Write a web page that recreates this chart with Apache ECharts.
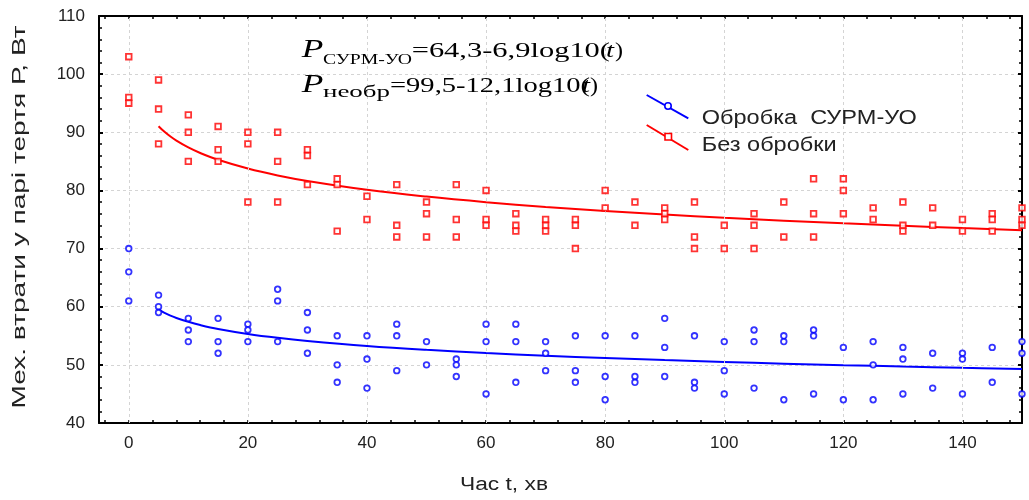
<!DOCTYPE html>
<html><head><meta charset="utf-8">
<script src="https://cdn.jsdelivr.net/npm/echarts@6/dist/echarts.min.js"></script>
<style>html,body{margin:0;padding:0;background:#fff}#c{width:1029px;height:500px}</style>
</head><body><div id="c"></div>
<script>
// ---- data ----
const timePoints = [0,5,10,15,20,25,30,35,40,45,50,55,60,65,70,75,80,85,90,95,100,105,110,115,120,125,130,135,140,145,150];
const blueGroups = [
  [70,66,61],[62,60,59],[58,56,54],[58,54,52],[57,56,54],[63,61,54],[59,56,52],[55,50,47],
  [55,51,46],[57,55,49],[54,50],[51,50,48],[57,54,45],[57,54,47],[54,52,49],[55,49,47],
  [55,48,44],[55,48,47],[58,53,48],[55,47,46],[54,49,45],[56,54,46],[55,54,44],[56,55,45],
  [53,44],[54,50,44],[53,51,45],[52,46],[52,51,45],[53,47],[54,52,45]
];
const redGroups = [
  [103,96,95],[99,94,88],[93,90,85],[91,87,85],[90,88,78],[90,85,78],[87,86,81],[82,81,73],
  [79,75],[81,74,72],[78,76,72],[81,75,72],[80,75,74],[76,74,73],[75,74,73],[75,74,70],
  [80,77],[78,74],[77,76,75],[78,72,70],[74,70],[76,74,70],[78,72],[82,76,72],
  [82,80,76],[77,75],[78,74,73],[77,74],[75,73],[76,75,73],[77,75,74]
];
const fitTimes = [5,6,7,8,10,12,15,20,25,30,40,50,60,70,80,90,100,110,120,130,140,150];
const fitBlue  = [59.48,58.93,58.47,58.07,57.40,56.85,56.18,55.32,54.65,54.11,53.25,52.58,52.03,51.57,51.17,50.82,50.50,50.21,49.95,49.71,49.49,49.28];
const fitRed   = [91.04,90.08,89.27,88.57,87.40,86.44,85.27,83.76,82.58,81.63,80.11,78.94,77.98,77.17,76.47,75.85,75.30,74.80,74.34,73.92,73.53,73.17];
const xTickLabels = [0,20,40,60,80,100,120,140];
const xTickMarks = [-4,0,4,8,12,16,20,24,28,32,36,40,44,48,52,56,60,64,68,72,76,80,84,88,92,96,100,104,108,112,116,120,124,128,132,136,140,144,148];
const seriesNames = ['Обробка  СУРМ-УО','Без обробки'];

// ---- build ----
const chart = echarts.init(document.getElementById('c'), null, {renderer:'canvas'});
const pairs = (groups) => timePoints.flatMap((t,i) => groups[i].map(v => [t, v]));
const zip = (xs, ys) => xs.map((x,i) => [x, ys[i]]);

const mctx = document.createElement('canvas').getContext('2d');
function measure(text, font){ mctx.font = font; return mctx.measureText(text).width; }
function fitText(text, font, x0, x1, yMid, fill){
  const w = measure(text, font);
  return {type:'text', x:x0, y:yMid, scaleX:(x1-x0)/w, z:100,
    style:{text, font, fill: fill || '#000', align:'left', verticalAlign:'middle'}};
}
const SERIF = '"Liberation Serif","Times New Roman",serif';
const SANS = '"Liberation Sans",Arial,sans-serif';

const graphics = [
  // formula line 1
  fitText('P', 'italic 25px '+SERIF, 301.7, 323.3, 50),
  fitText('СУРМ-УО', '15.5px '+SERIF, 323, 412, 59.5),
  fitText('=64,3-6,9log10(', '21px '+SERIF, 411.7, 610, 51.5),
  fitText('t', 'italic 21px '+SERIF, 606, 614, 51.5),
  fitText(')', '21px '+SERIF, 615, 623, 51.5),
  // formula line 2
  fitText('P', 'italic 25px '+SERIF, 301.7, 323.3, 85),
  fitText('необр', '16px '+SERIF, 323, 390, 93),
  fitText('=99,5-12,1log10(', '21px '+SERIF, 390, 590, 86.5),
  fitText('t', 'italic 21px '+SERIF, 582, 590, 86.5),
  fitText(')', '21px '+SERIF, 590, 598, 86.5),
  // legend
  {type:'line', shape:{x1:646.7,y1:95,x2:688.3,y2:118.3}, style:{stroke:'#0000ff', lineWidth:2}, z:100},
  {type:'circle', shape:{cx:668,cy:106,r:3.2}, style:{fill:'#fff', stroke:'#0000ff', lineWidth:1.6}, z:101},
  fitText(seriesNames[0], '20px '+SANS, 701.7, 916.7, 118.5, '#222'),
  {type:'line', shape:{x1:646.7,y1:125,x2:688.3,y2:150}, style:{stroke:'#ff0000', lineWidth:2}, z:100},
  {type:'rect', shape:{x:665,y:133.5,width:6.5,height:6.5}, style:{fill:'#fff', stroke:'#ff0000', lineWidth:1.6}, z:101},
  fitText(seriesNames[1], '20px '+SANS, 701.7, 836.7, 145, '#222'),
  // x axis name
  fitText('Час t, хв', '18px '+SANS, 460, 548, 485, '#222')
];
// y axis name (rotated)
(function(){
  const txt = 'Мех. втрати у парі тертя Р, Вт';
  const font = '18px '+SANS;
  const w = measure(txt, font);
  graphics.push({type:'text', x:20, y:217, rotation:Math.PI/2, scaleX:383/w, z:100,
    style:{text:txt, font, fill:'#222', align:'center', verticalAlign:'middle'}});
})();

const axisLineStyle = {show:true, onZero:false, lineStyle:{color:'#000', width:2}};
const labelStyle = {color:'#222', fontSize:17, fontFamily:SANS};

const option = {
  animation:false,
  backgroundColor:'#fff',
  grid:{left:99, right:7, top:16, bottom:77, containLabel:false},
  xAxis:[
    {type:'value', min:-5, max:150, position:'bottom', axisLine:axisLineStyle,
     axisTick:{show:true, inside:true, length:3, customValues:xTickMarks, lineStyle:{color:'#000', width:1.5}},
     axisLabel:Object.assign({customValues:xTickLabels, margin:12}, labelStyle),
     splitLine:{show:false}},
    {type:'value', min:-5, max:150, position:'top', axisLine:axisLineStyle,
     axisTick:{show:true, inside:true, length:3, customValues:xTickMarks, lineStyle:{color:'#000', width:1.5}},
     axisLabel:{show:false}, splitLine:{show:false}}
  ],
  yAxis:[
    {type:'value', min:40, max:110, interval:10, position:'left', axisLine:axisLineStyle,
     axisTick:{show:true, inside:true, length:4, lineStyle:{color:'#000', width:2}},
     minorTick:{show:true, splitNumber:5, length:3, lineStyle:{color:'#000', width:1.5}},
     axisLabel:Object.assign({margin:14}, labelStyle),
     splitLine:{show:true, lineStyle:{color:'#d4d4d4', type:[3,3], width:1}}},
    {type:'value', min:40, max:110, interval:10, position:'right', axisLine:axisLineStyle,
     axisTick:{show:true, inside:true, length:4, lineStyle:{color:'#000', width:2}},
     minorTick:{show:true, splitNumber:5, length:3, lineStyle:{color:'#000', width:1.5}},
     axisLabel:{show:false}, splitLine:{show:false}}
  ],
  series:[
    {type:'line', name:'grid', data:[], z:1, silent:true,
     markLine:{silent:true, symbol:'none', label:{show:false},
       lineStyle:{color:'#d4d4d4', type:[3,3], width:1},
       data: xTickLabels.map(v => ({xAxis:v}))}},
    {type:'line', name:seriesNames[0]+' fit', data:zip(fitTimes, fitBlue), smooth:0.4,
     showSymbol:false, lineStyle:{color:'#0000ff', width:2}, z:4, silent:true},
    {type:'line', name:seriesNames[1]+' fit', data:zip(fitTimes, fitRed), smooth:0.4,
     showSymbol:false, lineStyle:{color:'#ff0000', width:2}, z:4, silent:true},
    {type:'scatter', name:seriesNames[0], data:pairs(blueGroups), symbol:'circle', symbolSize:5.6,
     itemStyle:{color:'#fff', borderColor:'#0000ff', borderWidth:1.8}, z:5},
    {type:'scatter', name:seriesNames[1], data:pairs(redGroups), symbol:'rect', symbolSize:5.6,
     itemStyle:{color:'#fff', borderColor:'#ff0000', borderWidth:1.8}, z:5}
  ],
  graphic: graphics
};
chart.setOption(option);
</script></body></html>
